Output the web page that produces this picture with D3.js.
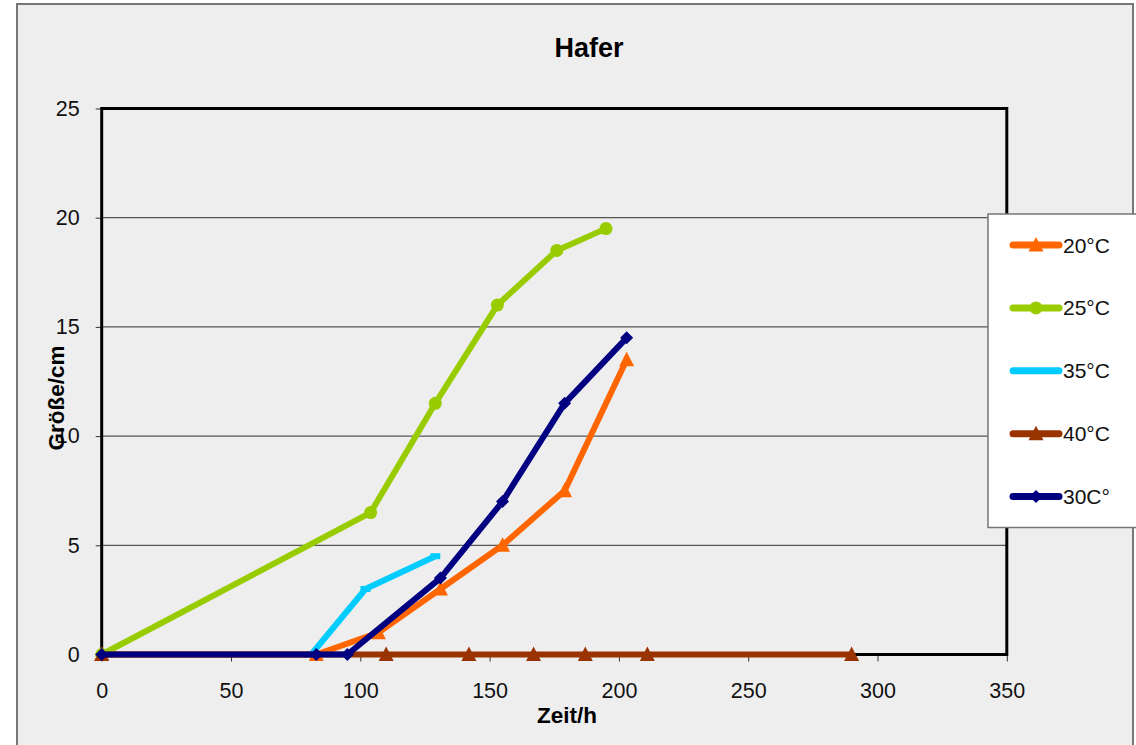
<!DOCTYPE html>
<html><head><meta charset="utf-8">
<script src="https://cdn.jsdelivr.net/npm/d3@7"></script>
<style>body{margin:0;background:#fff;font-family:"Liberation Sans",Arial,sans-serif}</style>
</head><body><svg id="c" width="1136" height="745"></svg>
<script>
const title = "Hafer";
const xLabel = "Zeit/h";
const yLabel = "Größe/cm";
const xTicks = [0,50,100,150,200,250,300,350];
const yTicks = [0,5,10,15,20,25];
const seriesNames = ["20°C","25°C","35°C","40°C","30C°"];
const seriesColors = ["#ff6600","#99cc00","#00ccff","#993300","#000080"];
const seriesMarkers = ["triangle","circle","dash","triangle","diamond"];
const s20x = [0,83,107,131,155,179,203];
const s20y = [0,0,1,3,5,7.5,13.5];
const s25x = [0,104,129,153,176,195];
const s25y = [0,6.5,11.5,16,18.5,19.5];
const s35x = [81,102,129];
const s35y = [0,3,4.5];
const s40x = [0,110,142,167,187,211,290];
const s40y = [0,0,0,0,0,0,0];
const s30x = [0,83,95,131,155,179,203];
const s30y = [0,0,0,3.5,7,11.5,14.5];

const seriesX = [s20x,s25x,s35x,s40x,s30x];
const seriesY = [s20y,s25y,s35y,s40y,s30y];

const FONT = "Liberation Sans, Arial, sans-serif";
const svg = d3.select("#c");
svg.append("rect").attr("x",0).attr("y",0).attr("width",1136).attr("height",745).attr("fill","#fff");
svg.append("rect").attr("x",17).attr("y",4).attr("width",1116).attr("height",760)
  .attr("fill","#eeeeee").attr("stroke","#777").attr("stroke-width",2);

const L=101.7, R=1006.8, T=108.5, B=654.5;
const x = d3.scaleLinear().domain([0,350]).range([L,R]);
const y = d3.scaleLinear().domain([0,25]).range([B,T]);

// grid
svg.append("g").selectAll("line").data(yTicks.filter(v=>v>0&&v<25)).join("line")
  .attr("x1",L).attr("x2",R).attr("y1",d=>y(d)).attr("y2",d=>y(d))
  .attr("stroke","#555").attr("stroke-width",1.2);

// axes
const xa = svg.append("g").attr("transform",`translate(0,${B})`)
  .call(d3.axisBottom(x).tickValues(xTicks).tickSize(7).tickPadding(21));
const ya = svg.append("g").attr("transform",`translate(${L},0)`)
  .call(d3.axisLeft(y).tickValues(yTicks).tickSize(6).tickPadding(16));
[xa,ya].forEach(a=>{
  a.select(".domain").remove();
  a.selectAll("line").attr("stroke","#333");
  a.selectAll("text").attr("font-size",21.5).attr("font-family",FONT).attr("fill","#111");
});

// plot frame
svg.append("rect").attr("x",L).attr("y",T).attr("width",R-L).attr("height",B-T)
  .attr("fill","none").attr("stroke","#000").attr("stroke-width",3);

// series
const line = d3.line().x(d=>x(d[0])).y(d=>y(d[1]));
function drawMarker(g, type, cx, cy, color){
  if(type==="triangle"){
    g.append("path").attr("d",`M${cx},${cy-8}L${cx+7.5},${cy+6.5}L${cx-7.5},${cy+6.5}Z`).attr("fill",color);
  } else if(type==="circle"){
    g.append("circle").attr("cx",cx).attr("cy",cy).attr("r",6.5).attr("fill",color);
  } else if(type==="diamond"){
    g.append("path").attr("d",`M${cx},${cy-6.5}L${cx+6.5},${cy}L${cx},${cy+6.5}L${cx-6.5},${cy}Z`).attr("fill",color);
  } else if(type==="dash"){
    g.append("rect").attr("x",cx-5).attr("y",cy-3).attr("width",10).attr("height",6).attr("fill",color);
  }
}
seriesNames.forEach((n,i)=>{
  const pts = seriesX[i].map((v,j)=>[v,seriesY[i][j]]);
  const g = svg.append("g");
  g.append("path").datum(pts).attr("d",line).attr("fill","none")
    .attr("stroke",seriesColors[i]).attr("stroke-width",6).attr("stroke-linejoin","round");
  pts.forEach(p=>drawMarker(g,seriesMarkers[i],x(p[0]),y(p[1]),seriesColors[i]));
});

// title & labels
svg.append("text").attr("x",589).attr("y",56.5).attr("text-anchor","middle").attr("font-family",FONT)
  .attr("font-size",27).attr("font-weight","bold").attr("fill","#000").text(title);
svg.append("text").attr("x",567).attr("y",723).attr("text-anchor","middle").attr("font-family",FONT)
  .attr("font-size",22.5).attr("font-weight","bold").attr("fill","#000").text(xLabel);
svg.append("text").attr("transform","translate(64,398) rotate(-90)").attr("text-anchor","middle").attr("font-family",FONT)
  .attr("font-size",22.5).attr("font-weight","bold").attr("fill","#000").text(yLabel);

// legend
const lg = svg.append("g");
lg.append("rect").attr("x",988).attr("y",214).attr("width",160).attr("height",313.5)
  .attr("fill","#fff").attr("stroke","#777").attr("stroke-width",1.5);
seriesNames.forEach((n,i)=>{
  const ly = 245 + i*62.9;
  lg.append("line").attr("x1",1013).attr("x2",1059).attr("y1",ly).attr("y2",ly)
    .attr("stroke",seriesColors[i]).attr("stroke-width",7).attr("stroke-linecap","round");
  if(seriesMarkers[i]!=="dash") drawMarker(lg,seriesMarkers[i],1036,ly,seriesColors[i]);
  lg.append("text").attr("x",1063).attr("y",ly+7.5).attr("font-family",FONT).attr("font-size",21).attr("fill","#111").text(n);
});
</script></body></html>
